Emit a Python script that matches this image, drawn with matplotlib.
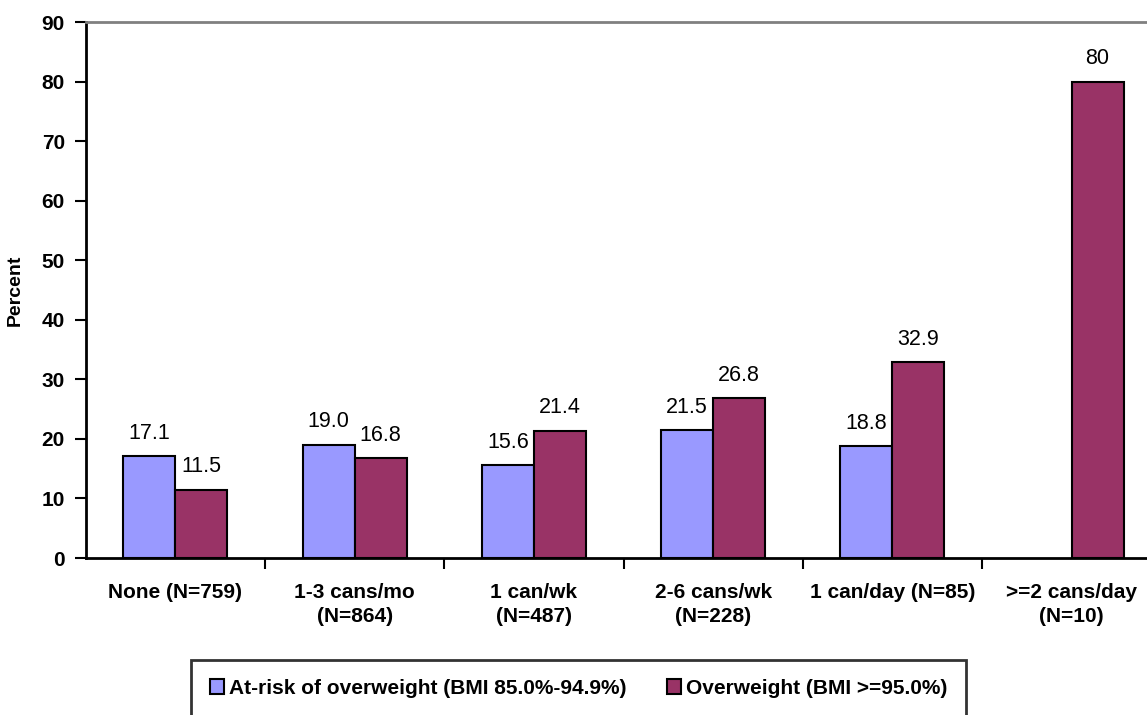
import numpy as np
import matplotlib.pyplot as plt

plt.rcParams['font.family'] = ['Liberation Sans', 'DejaVu Sans']

categories = ['None (N=759)', '1-3 cans/mo\n(N=864)', '1 can/wk\n(N=487)',
              '2-6 cans/wk\n(N=228)', '1 can/day (N=85)', '>=2 cans/day\n(N=10)']
at_risk = [17.1, 19.0, 15.6, 21.5, 18.8, np.nan]
overweight = [11.5, 16.8, 21.4, 26.8, 32.9, 80]
at_risk_labels = ['17.1', '19.0', '15.6', '21.5', '18.8', '']
overweight_labels = ['11.5', '16.8', '21.4', '26.8', '32.9', '80']

W, H = 1147, 715
fig = plt.figure(figsize=(W / 100, H / 100), dpi=100)
group_px = 179.25
ax = fig.add_axes([85.75 / W, 1 - 558 / H, 6 * group_px / W, (558 - 22) / H])

x = np.arange(len(categories))
bw = 0.29
b1 = ax.bar(x - bw / 2, at_risk, bw, color='#9999FF', edgecolor='black', linewidth=1.5,
            label='At-risk of overweight (BMI 85.0%-94.9%)')
b2 = ax.bar(x + bw / 2, overweight, bw, color='#993366', edgecolor='black', linewidth=1.5,
            label='Overweight (BMI >=95.0%)')

for bars, labs in ((b1, at_risk_labels), (b2, overweight_labels)):
    for rect, lab in zip(bars, labs):
        if not lab:
            continue
        ax.annotate(lab, (rect.get_x() + rect.get_width() / 2, rect.get_height()),
                    xytext=(0, 12.5), textcoords='offset points',
                    ha='center', va='baseline', fontsize=15.5)

ax.set_xlim(-0.5, 5.5)
ax.set_ylim(0, 90)
ax.set_yticks(range(0, 91, 10))
ax.set_xticks(np.arange(0.5, 5.5, 1))
ax.set_xticklabels([])
ax.set_xticks(x, minor=True)
ax.set_xticklabels(categories, minor=True, fontsize=15, fontweight='bold', linespacing=1.3)
ax.tick_params(axis='x', which='major', direction='out', length=8, width=1.5)
ax.tick_params(axis='x', which='minor', length=0, pad=18)
ax.tick_params(axis='y', direction='out', length=8, width=1.5, pad=7, labelsize=15)
for t in ax.get_yticklabels():
    t.set_fontweight('bold')
ax.set_ylabel('Percent', fontsize=14, fontweight='bold', labelpad=13)

ax.spines['left'].set_linewidth(2)
ax.spines['bottom'].set_linewidth(2)
ax.spines['top'].set_color('#808080')
ax.spines['top'].set_linewidth(2)
ax.spines['right'].set_visible(False)

leg = fig.legend(handles=[b1, b2], loc='upper left', bbox_to_anchor=(191 / W, 1 - 660 / H),
                 ncol=2, frameon=True, fancybox=False, edgecolor='black',
                 borderpad=0.9, borderaxespad=0, handlelength=0.67, handleheight=0.67,
                 handletextpad=0.25, columnspacing=1.95, prop={'weight': 'bold', 'size': 15})
leg.get_frame().set_linewidth(2)

fig.savefig('out.png', dpi=100)
